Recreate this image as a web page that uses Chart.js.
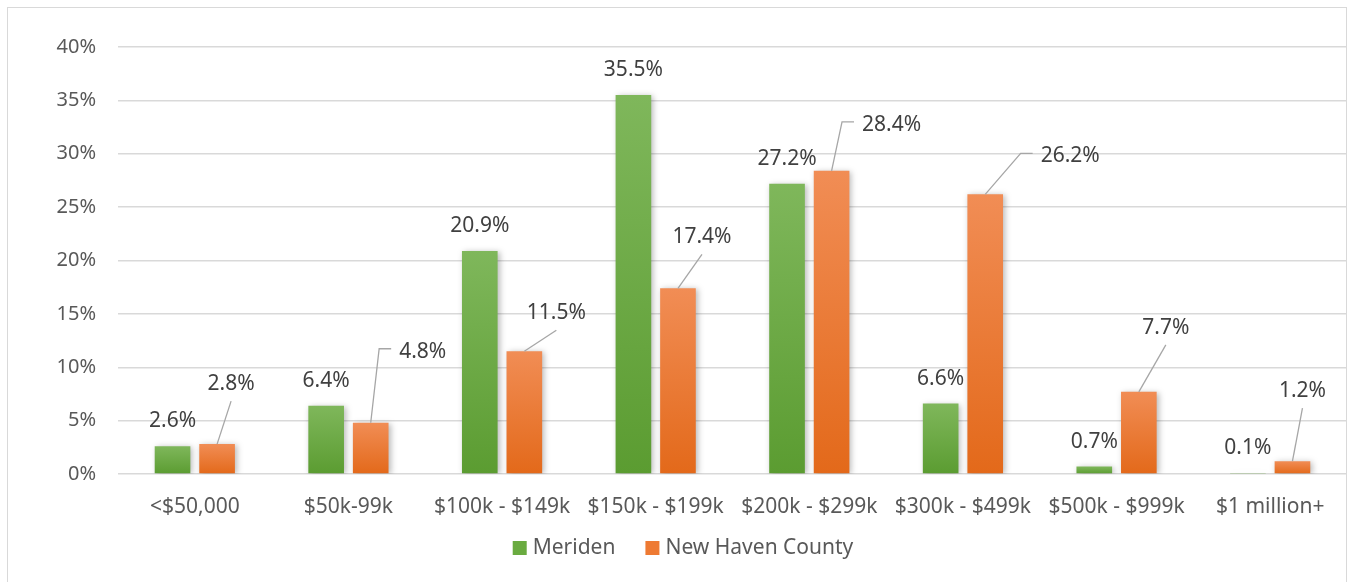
<!DOCTYPE html>
<html>
<head>
<meta charset="utf-8">
<script src="https://cdn.jsdelivr.net/npm/chart.js@4.4.1/dist/chart.umd.min.js"></script>
<style>
  body { margin: 0; background: #fff; }
  #wrap { position: relative; width: 1351px; height: 582px; overflow: hidden; }
  #frame { position: absolute; left: 7px; top: 7px; width: 1338px; height: 590px; border: 1.5px solid #d9d9d9; }
  canvas { position: absolute; left: 0; top: 0; }
</style>
</head>
<body>
<div id="wrap">
  <div id="frame"></div>
  <canvas id="chart" width="1351" height="582"></canvas>
</div>
<script>
const categories = ["<$50,000", "$50k-99k", "$100k - $149k", "$150k - $199k", "$200k - $299k", "$300k - $499k", "$500k - $999k", "$1 million+"];
const meriden = [2.6, 6.4, 20.9, 35.5, 27.2, 6.6, 0.7, 0.1];
const newHaven = [2.8, 4.8, 11.5, 17.4, 28.4, 26.2, 7.7, 1.2];
const yTicks = [0, 5, 10, 15, 20, 25, 30, 35, 40];
const seriesNames = ["Meriden", "New Haven County"];

// where the orange labels sit, relative to the bar top (dx, dy, elbow line)
const orangeLabelOffsets = [[14, -60, false], [52, -71, true], [32, -38, false], [24, -51, false], [60, -46, true], [85, -38, true], [27, -64, false], [10, -70, false]];

const FONT = "21px 'Noto Sans', sans-serif";
Chart.defaults.font.family = "'Noto Sans', sans-serif";
Chart.defaults.font.size = 20;
Chart.defaults.color = "#595959";

function barFill(light, dark) {
  return (c) => {
    const { chart } = c;
    if (!chart.chartArea || c.type !== "data") return dark;
    const y = chart.scales.y;
    const top = y.getPixelForValue(c.raw);
    const bottom = y.getPixelForValue(0);
    if (bottom - top < 1) return dark;
    const g = chart.ctx.createLinearGradient(0, top, 0, bottom);
    g.addColorStop(0, light);
    g.addColorStop(1, dark);
    return g;
  };
}

const barShadow = {
  id: "barShadow",
  beforeDatasetsDraw(chart) {
    const ctx = chart.ctx;
    ctx.save();
    ctx.shadowColor = "rgba(0,0,0,0.28)";
    ctx.shadowBlur = 6;
    ctx.shadowOffsetX = 2;
    ctx.shadowOffsetY = 1;
  },
  afterDatasetsDraw(chart) {
    chart.ctx.restore();
  },
};

const valueLabels = {
  id: "valueLabels",
  afterDatasetsDraw(chart) {
    const ctx = chart.ctx;
    ctx.save();
    ctx.font = FONT;
    ctx.fillStyle = "#404040";
    ctx.textAlign = "center";
    ctx.textBaseline = "middle";

    chart.getDatasetMeta(0).data.forEach((bar, i) => {
      ctx.fillText(meriden[i].toFixed(1) + "%", bar.x, bar.y - 25);
    });

    ctx.strokeStyle = "#a6a6a6";
    ctx.lineWidth = 1.3;
    chart.getDatasetMeta(1).data.forEach((bar, i) => {
      const [dx, dy, elbow] = orangeLabelOffsets[i];
      const text = newHaven[i].toFixed(1) + "%";
      const lx = bar.x + dx;
      const ly = bar.y + dy;
      const w = ctx.measureText(text).width;
      ctx.beginPath();
      ctx.moveTo(bar.x, bar.y);
      if (elbow) {
        const left = lx - w / 2;
        ctx.lineTo(left - 20, ly - 3);
        ctx.lineTo(left - 8, ly - 3);
      } else {
        ctx.lineTo(lx, ly + 17);
      }
      ctx.stroke();
      ctx.fillText(text, lx, ly);
    });
    ctx.restore();
  },
};

// legend drawn by hand so the box/text gaps match
const bottomLegend = {
  id: "bottomLegend",
  afterDraw(chart) {
    const ctx = chart.ctx;
    const swatches = ["#6aab40", "#ee7a33"];
    ctx.save();
    ctx.font = FONT;
    ctx.textBaseline = "middle";
    ctx.textAlign = "left";
    const widths = seriesNames.map((n) => ctx.measureText(n).width);
    const total = widths.reduce((a, w) => a + 14 + 6 + w, 0) + 30;
    let x = 683 - total / 2;
    const y = 548;
    seriesNames.forEach((n, i) => {
      ctx.fillStyle = swatches[i];
      ctx.fillRect(x, y - 7, 14, 14);
      ctx.fillStyle = "#595959";
      ctx.fillText(n, x + 20, y);
      x += 20 + widths[i] + 30;
    });
    ctx.restore();
  },
};

new Chart(document.getElementById("chart"), {
  type: "bar",
  data: {
    labels: categories,
    datasets: [
      {
        label: seriesNames[0],
        data: meriden,
        backgroundColor: barFill("#7fb75b", "#5b9c31"),
        categoryPercentage: 0.58,
        barPercentage: 0.8,
      },
      {
        label: seriesNames[1],
        data: newHaven,
        backgroundColor: barFill("#f18d55", "#e3691a"),
        categoryPercentage: 0.58,
        barPercentage: 0.8,
      },
    ],
  },
  options: {
    responsive: false,
    animation: false,
    layout: { padding: { left: 8, right: 4, top: 47, bottom: 64 } },
    scales: {
      x: {
        grid: { display: false },
        border: { display: false },
        ticks: { padding: 12, maxRotation: 0, autoSkip: false, font: { size: 21 } },
        afterFit(axis) {
          axis.height = 44;
        },
      },
      y: {
        min: 0,
        max: 40,
        afterBuildTicks(axis) {
          axis.ticks = yTicks.map((v) => ({ value: v }));
        },
        afterFit(axis) {
          axis.width = 110;
        },
        grid: { color: "#d9d9d9", lineWidth: 1.5, drawTicks: false },
        border: { display: false },
        ticks: { padding: 22, callback: (v) => v + "%" },
      },
    },
    plugins: {
      legend: { display: false },
      tooltip: { enabled: false },
    },
  },
  plugins: [barShadow, valueLabels, bottomLegend],
});
</script>
</body>
</html>
